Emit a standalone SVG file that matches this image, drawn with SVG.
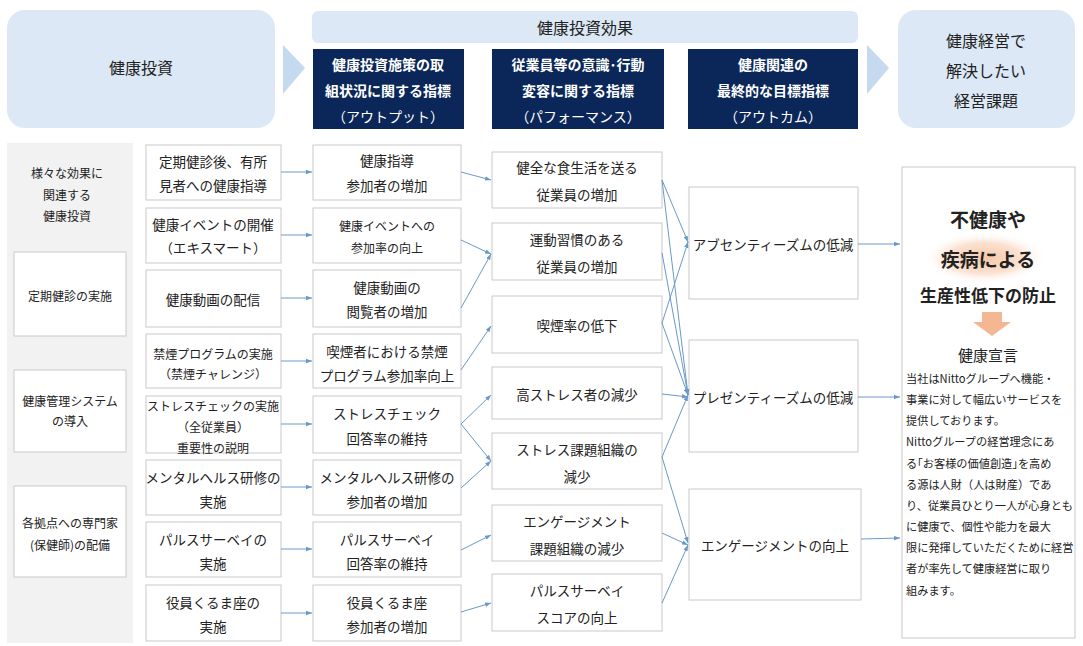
<svg xmlns="http://www.w3.org/2000/svg" width="1083" height="646" viewBox="0 0 1083 646">
<defs>
<style>
text{font-family:"Noto Sans CJK JP","Noto Sans",sans-serif;fill:#222;text-anchor:middle;dominant-baseline:central}
.b{fill:#fff;stroke:#c9c9c9;stroke-width:1}
.n{font-size:13.5px}
.hd{fill:#dce8f5}
.dk{fill:#0b2759}
.w{fill:#fff;font-weight:bold;font-size:14px}
.wl{fill:#fff;font-size:14px}
.c{stroke:#6a98c8;stroke-width:1;fill:none;marker-end:url(#ar)}
.s text{font-size:11.2px;text-anchor:start}
</style>
<marker id="ar" viewBox="0 0 8 6" refX="8" refY="3" markerWidth="6" markerHeight="5" orient="auto"><path d="M0,0L8,3L0,6z" fill="#6a98c8"/></marker>
<radialGradient id="gl"><stop offset="0" stop-color="#f6c8a8"/><stop offset="0.6" stop-color="#fbe2d2"/><stop offset="1" stop-color="#fff" stop-opacity="0"/></radialGradient>
</defs>
<rect width="1083" height="646" fill="#fff"/>
<g id="header">
<rect class="hd" x="7" y="10" width="268" height="118" rx="18"/><text x="141" y="67" font-size="16">健康投資</text>
<path d="M283,45 L305,68 L283,94 z" fill="#c5daef"/>
<rect class="hd" x="312" y="11" width="546" height="32" rx="6"/><text x="585" y="27" font-size="16">健康投資効果</text>
<rect class="dk" x="313" y="49" width="151" height="80"/><text class="w" x="388" y="64">健康投資施策の取</text><text class="w" x="388" y="90">組状況に関する指標</text><text class="wl" x="388" y="116">（アウトプット）</text>
<rect class="dk" x="492" y="49" width="172" height="80"/><text class="w" x="578" y="64">従業員等の意識･行動</text><text class="w" x="578" y="90">変容に関する指標</text><text class="wl" x="578" y="116">（パフォーマンス）</text>
<rect class="dk" x="688" y="49" width="170" height="80"/><text class="w" x="773" y="64">健康関連の</text><text class="w" x="773" y="90">最終的な目標指標</text><text class="wl" x="773" y="116">（アウトカム）</text>
<path d="M867,45 L889,68 L867,94 z" fill="#c5daef"/>
<rect class="hd" x="898" y="10" width="177" height="118" rx="18"/><text x="986" y="40" font-size="16">健康経営で</text><text x="986" y="70" font-size="16">解決したい</text><text x="986" y="100" font-size="16">経営課題</text>
</g>
<g id="left-panel">
<rect x="7" y="143" width="126" height="500" fill="#f2f2f2"/>
<text x="67" y="172" font-size="12">様々な効果に</text><text x="67" y="194" font-size="12">関連する</text><text x="67" y="215" font-size="12">健康投資</text>
<rect class="b" x="14" y="252" width="112" height="84"/><text x="70" y="295" font-size="12">定期健診の実施</text>
<rect class="b" x="14" y="370" width="112" height="82"/><text x="70" y="400" font-size="12">健康管理システム</text><text x="70" y="420" font-size="12">の導入</text>
<rect class="b" x="14" y="486" width="112" height="91"/><text x="70" y="522" font-size="12">各拠点への専門家</text><text x="70" y="544" font-size="12">(保健師)の配備</text>
</g>
<g id="col1" class="n">
<g id="i1"><rect class="b" x="146" y="145" width="135" height="55"/><text x="213" y="161">定期健診後、有所</text><text x="213" y="185">見者への健康指導</text></g>
<g id="i2"><rect class="b" x="146" y="208" width="135" height="55"/><text x="213" y="224">健康イベントの開催</text><text x="213" y="247">（エキスマート）</text></g>
<g id="i3"><rect class="b" x="146" y="270" width="135" height="57"/><text x="213" y="299">健康動画の配信</text></g>
<g id="i4"><rect class="b" x="146" y="334" width="135" height="54"/><text x="213" y="353" font-size="12">禁煙プログラムの実施</text><text x="213" y="373" font-size="12">（禁煙チャレンジ）</text></g>
<g id="i5"><rect class="b" x="146" y="396" width="135" height="57"/><text x="213" y="405" font-size="12">ストレスチェックの実施</text><text x="213" y="426" font-size="12">（全従業員）</text><text x="213" y="447" font-size="12">重要性の説明</text></g>
<g id="i6"><rect class="b" x="146" y="460" width="135" height="55"/><text x="213" y="477">メンタルヘルス研修の</text><text x="213" y="501">実施</text></g>
<g id="i7"><rect class="b" x="146" y="522" width="135" height="55"/><text x="213" y="539">パルスサーベイの</text><text x="213" y="563">実施</text></g>
<g id="i8"><rect class="b" x="146" y="585" width="135" height="56"/><text x="213" y="602">役員くるま座の</text><text x="213" y="626">実施</text></g>
</g>
<g id="col2" class="n">
<g id="o1"><rect class="b" x="313" y="145" width="148" height="55"/><text x="387" y="160">健康指導</text><text x="387" y="185">参加者の増加</text></g>
<g id="o2"><rect class="b" x="313" y="208" width="148" height="55"/><text x="387" y="225" font-size="12">健康イベントへの</text><text x="387" y="247" font-size="12">参加率の向上</text></g>
<g id="o3"><rect class="b" x="313" y="270" width="148" height="57"/><text x="387" y="287">健康動画の</text><text x="387" y="311">閲覧者の増加</text></g>
<g id="o4"><rect class="b" x="313" y="334" width="148" height="54"/><text x="387" y="351">喫煙者における禁煙</text><text x="387" y="375">プログラム参加率向上</text></g>
<g id="o5"><rect class="b" x="313" y="396" width="148" height="57"/><text x="387" y="413">ストレスチェック</text><text x="387" y="438">回答率の維持</text></g>
<g id="o6"><rect class="b" x="313" y="460" width="148" height="55"/><text x="387" y="477">メンタルヘルス研修の</text><text x="387" y="501">参加者の増加</text></g>
<g id="o7"><rect class="b" x="313" y="522" width="148" height="55"/><text x="387" y="539">パルスサーベイ</text><text x="387" y="563">回答率の維持</text></g>
<g id="o8"><rect class="b" x="313" y="585" width="148" height="56"/><text x="387" y="602">役員くるま座</text><text x="387" y="626">参加者の増加</text></g>
</g>
<g id="col3" class="n">
<g id="p1"><rect class="b" x="492" y="152" width="170" height="56"/><text x="577" y="167">健全な食生活を送る</text><text x="577" y="194">従業員の増加</text></g>
<g id="p2"><rect class="b" x="492" y="223" width="170" height="57"/><text x="577" y="239">運動習慣のある</text><text x="577" y="266">従業員の増加</text></g>
<g id="p3"><rect class="b" x="492" y="296" width="170" height="57"/><text x="577" y="325">喫煙率の低下</text></g>
<g id="p4"><rect class="b" x="492" y="367" width="170" height="52"/><text x="577" y="394">高ストレス者の減少</text></g>
<g id="p5"><rect class="b" x="492" y="433" width="170" height="56"/><text x="577" y="449">ストレス課題組織の</text><text x="577" y="476">減少</text></g>
<g id="p6"><rect class="b" x="492" y="505" width="170" height="56"/><text x="577" y="521">エンゲージメント</text><text x="577" y="548">課題組織の減少</text></g>
<g id="p7"><rect class="b" x="492" y="574" width="170" height="57"/><text x="577" y="590">パルスサーベイ</text><text x="577" y="617">スコアの向上</text></g>
</g>
<g id="col4" class="n">
<g id="a1"><rect class="b" x="689" y="187" width="169" height="112"/><text x="773" y="244">アブセンティーズムの低減</text></g>
<g id="a2"><rect class="b" x="689" y="340" width="169" height="112"/><text x="773" y="397">プレゼンティーズムの低減</text></g>
<g id="a3"><rect class="b" x="689" y="489" width="172" height="111"/><text x="775" y="545">エンゲージメントの向上</text></g>
</g>
<g id="goal">
<rect class="b" x="902" y="167" width="173" height="471"/>
<ellipse cx="985" cy="258" rx="62" ry="26" fill="url(#gl)"/>
<text x="988" y="218" font-size="19" font-weight="bold">不健康や</text>
<text x="988" y="258" font-size="19" font-weight="bold">疾病による</text>
<text x="988" y="294" font-size="17" font-weight="bold">生産性低下の防止</text>
<path d="M982,312 L1002,312 L1002,322 L1011,322 L992,336 L973,322 L982,322 z" fill="#f5b792"/>
<text x="988" y="354" font-size="15">健康宣言</text>
<g class="s">
<text x="906" y="378">当社はNittoグループへ機能・</text>
<text x="906" y="399">事業に対して幅広いサービスを</text>
<text x="906" y="420">提供しております。</text>
<text x="906" y="441">Nittoグループの経営理念にあ</text>
<text x="906" y="463">る｢お客様の価値創造｣を高め</text>
<text x="906" y="484">る源は人財（人は財産）であ</text>
<text x="906" y="505">り、従業員ひとり一人が心身とも</text>
<text x="906" y="526">に健康で、個性や能力を最大</text>
<text x="906" y="547">限に発揮していただくために経営</text>
<text x="906" y="568">者が率先して健康経営に取り</text>
<text x="906" y="590">組みます。</text>
</g>
</g>
<g id="connectors">
<path class="c" d="M281,172H312"/><path class="c" d="M281,235H312"/><path class="c" d="M281,298H312"/><path class="c" d="M281,361H312"/>
<path class="c" d="M281,424H312"/><path class="c" d="M281,487H312"/><path class="c" d="M281,549H312"/><path class="c" d="M281,613H312"/>
<path class="c" d="M461,172L491,180"/><path class="c" d="M461,240L491,254"/><path class="c" d="M461,308L491,254"/><path class="c" d="M461,370L491,326"/>
<path class="c" d="M461,424L491,395"/><path class="c" d="M461,424L491,461"/><path class="c" d="M461,488L491,461"/><path class="c" d="M461,550L491,535"/><path class="c" d="M461,612L491,603"/>
<path class="c" d="M662,180L688,242"/><path class="c" d="M662,180L688,395"/><path class="c" d="M662,253L688,395"/>
<path class="c" d="M662,323L688,242"/><path class="c" d="M662,323L688,395"/><path class="c" d="M662,394L688,397"/>
<path class="c" d="M662,457L688,395"/><path class="c" d="M662,457L688,543"/><path class="c" d="M662,533L688,545"/><path class="c" d="M662,603L688,545"/>
<path class="c" d="M858,244H900"/><path class="c" d="M858,397H900"/><path class="c" d="M861,539L900,538"/>
</g>
</svg>
